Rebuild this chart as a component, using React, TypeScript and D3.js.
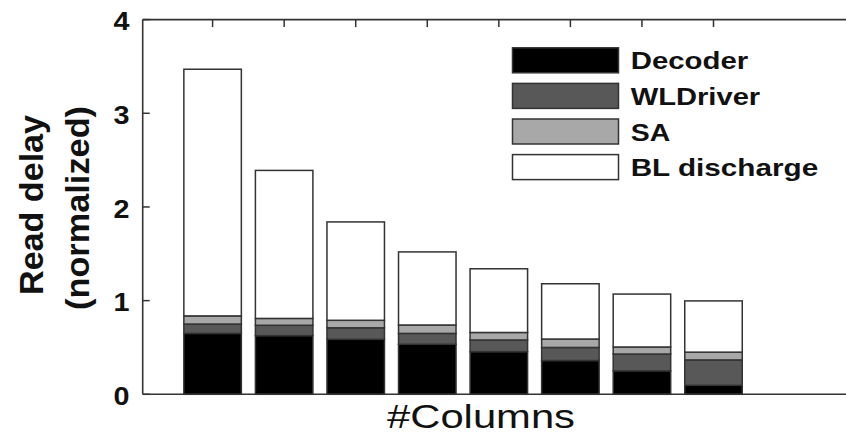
import React from "react";
import * as d3 from "d3";

const categories = ["1", "2", "3", "4", "5", "6", "7", "8"];
const seriesNames = ["Decoder", "WLDriver", "SA", "BL discharge"];
const decoder = [0.65, 0.626, 0.587, 0.534, 0.455, 0.36, 0.25, 0.096];
const wlDriver = [0.1, 0.111, 0.123, 0.116, 0.125, 0.14, 0.18, 0.271];
const sa = [0.087, 0.073, 0.08, 0.09, 0.08, 0.09, 0.075, 0.083];
const blDischarge = [2.633, 1.58, 1.05, 0.78, 0.68, 0.59, 0.565, 0.547];
const yTicks = [0, 1, 2, 3, 4];

const colors = ["#000000", "#585858", "#a8a8a8", "#ffffff"];
const stroke = "#333333";

export default function App() {
  const W = 846;
  const H = 435;
  const left = 142.7;
  const top = 19.6;
  const bottom = 394.3;
  const y = d3.scaleLinear().domain([0, 4]).range([bottom, top]);
  const x = d3.scaleLinear().domain([0, categories.length - 1]).range([212.6, 713.5]);
  const barW = 57.5;

  const rows = categories.map((c, i) => ({
    cat: c,
    Decoder: decoder[i],
    WLDriver: wlDriver[i],
    SA: sa[i],
    "BL discharge": blDischarge[i],
  }));
  const stack = d3.stack<any>().keys(seriesNames)(rows);

  const font = "'Liberation Sans', Arial, Helvetica, sans-serif";
  const legendX = 512.5;
  const legendY0 = 60.3;
  const legendStep = 35.6;
  const legendTextW = [117.5, 129.5, 39.5, 187.5];

  return (
    <svg
      width={W}
      height={H}
      style={{ position: "absolute", left: 0, top: 0, background: "#fff" }}
      fontFamily={font}
    >
      <rect x={0} y={0} width={W} height={H} fill="#fff" />
      {stack.map((layer, si) => (
        <g key={seriesNames[si]}>
          {layer.map((d, i) => (
            <rect
              key={i}
              x={x(i) - barW / 2}
              y={y(d[1])}
              width={barW}
              height={y(d[0]) - y(d[1])}
              fill={colors[si]}
              stroke={stroke}
              strokeWidth={1.5}
            />
          ))}
        </g>
      ))}
      {/* frame */}
      <line x1={left} x2={W + 5} y1={top} y2={top} stroke={stroke} strokeWidth={1.6} />
      <line x1={left} x2={W + 5} y1={bottom} y2={bottom} stroke={stroke} strokeWidth={1.6} />
      <line x1={left} x2={left} y1={top} y2={bottom} stroke={stroke} strokeWidth={1.6} />
      {/* y ticks */}
      {yTicks.map((t) => (
        <g key={t}>
          <line x1={left} x2={left + 7} y1={y(t)} y2={y(t)} stroke={stroke} strokeWidth={1.5} />
          <text
            transform={`translate(129.5,${y(t) + 10.8}) scale(1.15,1)`}
            textAnchor="end"
            fontSize={25}
            fontWeight="bold"
            fill="#111"
          >
            {t}
          </text>
        </g>
      ))}
      {/* top ticks */}
      {categories.map((c, i) => (
        <line key={c} x1={x(i)} x2={x(i)} y1={top} y2={top + 7.5} stroke={stroke} strokeWidth={1.5} />
      ))}
      {/* y label */}
      <text
        transform={`translate(43,205) rotate(-90)`}
        textAnchor="middle"
        fontSize={34}
        fontWeight="bold"
        fill="#111"
        textLength={180}
        lengthAdjust="spacingAndGlyphs"
      >
        Read delay
      </text>
      <text
        transform={`translate(88.5,208) rotate(-90)`}
        textAnchor="middle"
        fontSize={34}
        fontWeight="bold"
        fill="#111"
        textLength={204}
        lengthAdjust="spacingAndGlyphs"
      >
        (normalized)
      </text>
      {/* x label */}
      <text
        x={387}
        y={427.5}
        fontSize={34}
        fill="#111"
        textLength={188}
        lengthAdjust="spacingAndGlyphs"
      >
        #Columns
      </text>
      {/* legend */}
      {seriesNames.map((s, i) => (
        <g key={s}>
          <rect
            x={legendX}
            y={legendY0 + i * legendStep - 12.5}
            width={106}
            height={25}
            fill={colors[i]}
            stroke={stroke}
            strokeWidth={1.5}
          />
          <text
            x={630.7}
            y={legendY0 + i * legendStep + 9}
            fontSize={24.5}
            fontWeight="bold"
            fill="#111"
            textLength={legendTextW[i]}
            lengthAdjust="spacingAndGlyphs"
          >
            {s}
          </text>
        </g>
      ))}
    </svg>
  );
}
